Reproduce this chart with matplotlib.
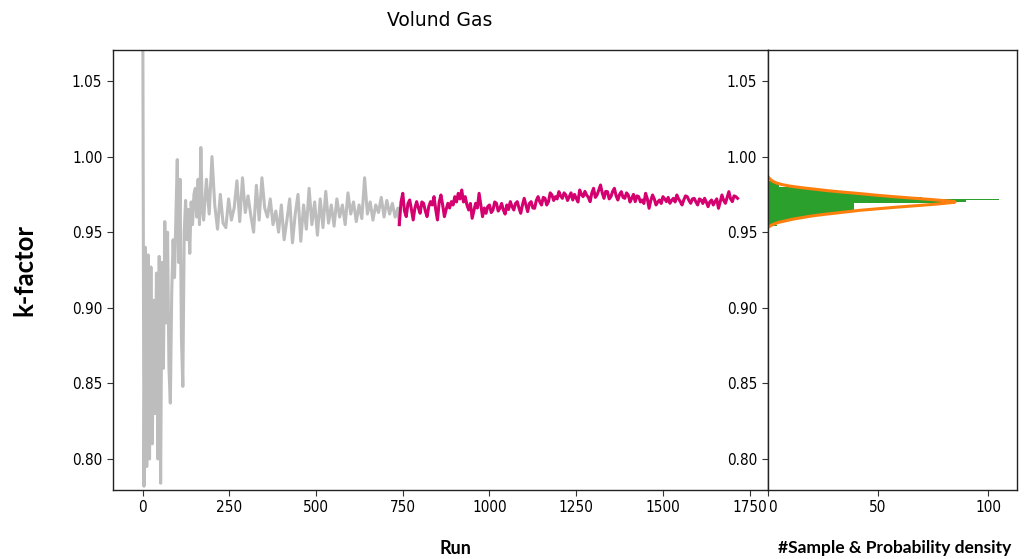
import numpy as np
import matplotlib
matplotlib.use("Agg")
import matplotlib.pyplot as plt

# ---------------- data ----------------
gray_runs = list(range(0, 173, 4)) + list(range(176, 737, 8)) + [740]
gray_kf = [
    1.15, 0.782, 0.940, 0.795, 0.935, 0.800, 0.927, 0.810, 0.905, 0.830,
    0.923, 0.800, 0.934, 0.784, 0.930, 0.860, 0.957, 0.890, 0.950, 0.860,
    0.837, 0.910, 0.945, 0.920, 0.960, 0.998, 0.930, 0.985, 0.880, 0.848,
    0.950, 0.971, 0.945, 0.965, 0.936, 0.970, 0.955, 0.975, 0.979, 0.960,
    0.985, 0.955, 1.006, 0.965,
    0.958, 0.985, 0.962, 1.000, 0.968, 0.952, 0.975, 0.956, 0.953, 0.972,
    0.958, 0.966, 0.984, 0.957, 0.986, 0.963, 0.974, 0.961, 0.950, 0.981,
    0.958, 0.986, 0.966, 0.960, 0.972, 0.955, 0.964, 0.950, 0.968, 0.945,
    0.958, 0.972, 0.943, 0.962, 0.975, 0.944, 0.968, 0.952, 0.979, 0.955,
    0.970, 0.948, 0.972, 0.953, 0.977, 0.956, 0.968, 0.954, 0.972, 0.960,
    0.968, 0.955, 0.976, 0.962, 0.970, 0.957, 0.968, 0.959, 0.986, 0.962,
    0.970, 0.958, 0.968, 0.963, 0.973, 0.960, 0.971, 0.962, 0.969, 0.960,
    0.966, 0.955,
]

mag_runs = list(range(740, 1716, 5))
mag_kf = [
    0.9550, 0.9700, 0.9757, 0.9640, 0.9603, 0.9690, 0.9713, 0.9650, 0.9581, 0.9660,
    0.9702, 0.9660, 0.9625, 0.9700, 0.9691, 0.9640, 0.9603, 0.9670, 0.9702, 0.9680,
    0.9735, 0.9650, 0.9581, 0.9700, 0.9746, 0.9680, 0.9603, 0.9650, 0.9691, 0.9660,
    0.9702, 0.9680, 0.9735, 0.9700, 0.9757, 0.9720, 0.9779, 0.9700, 0.9735, 0.9680,
    0.9647, 0.9690, 0.9592, 0.9640, 0.9691, 0.9660, 0.9757, 0.9680, 0.9603, 0.9660,
    0.9625, 0.9670, 0.9680, 0.9630, 0.9647, 0.9700, 0.9691, 0.9640, 0.9658, 0.9690,
    0.9647, 0.9620, 0.9680, 0.9650, 0.9702, 0.9670, 0.9647, 0.9690,
    0.9702, 0.9660, 0.9625, 0.9680, 0.9724, 0.9680, 0.9636, 0.9690, 0.9702, 0.9660,
    0.9658, 0.9710, 0.9735, 0.9700, 0.9680, 0.9730, 0.9724, 0.9680, 0.9702, 0.9760,
    0.9746, 0.9710, 0.9735, 0.9720, 0.9768, 0.9740, 0.9724, 0.9760, 0.9746, 0.9710,
    0.9735, 0.9760, 0.9713, 0.9750, 0.9724, 0.9700, 0.9779, 0.9750, 0.9735, 0.9770,
    0.9746, 0.9730, 0.9702, 0.9760, 0.9790, 0.9730, 0.9746, 0.9780, 0.9812, 0.9760,
    0.9724, 0.9770, 0.9768, 0.9720, 0.9735, 0.9770, 0.9790, 0.9740, 0.9713, 0.9750,
    0.9768, 0.9730, 0.9724, 0.9760, 0.9746, 0.9700,
    0.9724, 0.9750, 0.9702, 0.9740, 0.9735, 0.9700, 0.9713, 0.9690, 0.9757, 0.9720,
    0.9658, 0.9710, 0.9746, 0.9720, 0.9680, 0.9700, 0.9713, 0.9690, 0.9735, 0.9720,
    0.9702, 0.9730, 0.9691, 0.9710, 0.9724, 0.9700, 0.9746, 0.9720, 0.9702, 0.9680,
    0.9713, 0.9740, 0.9735, 0.9710, 0.9691, 0.9720, 0.9724, 0.9700, 0.9680, 0.9720,
    0.9713, 0.9690, 0.9724, 0.9700, 0.9669, 0.9700, 0.9713, 0.9680, 0.9702, 0.9720,
    0.9658, 0.9700, 0.9746, 0.9710, 0.9691, 0.9730, 0.9768, 0.9720, 0.9702, 0.9740,
    0.9735, 0.9724,
]

hist_centers = [0.9545 + 0.001 * i for i in range(30)]
hist_counts = [
    4, 3, 4, 7, 10, 14, 17, 23, 29, 35,
    41, 39, 39, 39, 39, 84, 90, 105, 70, 60,
    50, 42, 34, 27, 20, 13, 5, 6, 4, 2,
]

dens_k = [0.9535, 0.9545, 0.9555, 0.9565, 0.9575, 0.9585, 0.9595, 0.9605, 0.9615,
          0.9625, 0.9635, 0.9645, 0.9655, 0.9665, 0.9675, 0.9685, 0.9695, 0.9700,
          0.9705, 0.9715, 0.9725, 0.9735, 0.9745, 0.9755, 0.9765, 0.9775, 0.9785,
          0.9795, 0.9805, 0.9815, 0.9825, 0.9835, 0.9845, 0.9855, 0.9865]
dens_val = [0.5, 1.5, 3, 5, 8, 11, 15, 19, 24, 30, 36, 42, 50, 58, 67, 76, 83, 85,
            83, 75, 66, 57, 49, 42, 34, 27, 21, 15, 10, 6.5, 4, 2.5, 1.5, 0.8, 0.3]

yticks = [0.80, 0.85, 0.90, 0.95, 1.00, 1.05]
run_ticks = [0, 250, 500, 750, 1000, 1250, 1500, 1750]
hist_ticks = [0, 50, 100]

# ---------------- figure ----------------
fig = plt.figure(figsize=(10.25, 5.59), dpi=100)
ax1 = fig.add_axes([0.110, 0.1234, 0.639, 0.7872])
ax2 = fig.add_axes([0.749, 0.1234, 0.243, 0.7872])

n = min(len(gray_runs), len(gray_kf))
ax1.plot(gray_runs[:n], gray_kf[:n], color="#bdbdbd", lw=2.2)
m = min(len(mag_runs), len(mag_kf))
ax1.plot(mag_runs[:m], mag_kf[:m], color="#d4006f", lw=2.2)

ylim = (0.7795, 1.0705)
ax1.set_ylim(*ylim)
ax1.set_xlim(-86, 1802)
ax1.set_yticks(yticks)
ax1.set_yticklabels([f"{v:.2f}" for v in yticks])
ax1.set_xticks(run_ticks)

ax2.barh(hist_centers, hist_counts, height=0.001, color="#2ca02c", linewidth=0)
ax2.plot(dens_val, dens_k, color="#ff7f0e", lw=2.2)
ax2.set_ylim(*ylim)
ax2.set_xlim(0, 113)
ax2.set_yticks(yticks)
ax2.set_yticklabels([f"{v:.2f}" for v in yticks])
ax2.set_xticks(hist_ticks)

for ax in (ax1, ax2):
    ax.tick_params(labelsize=11, length=4, color="#333333")
    for lab in ax.get_xticklabels() + ax.get_yticklabels():
        lab.set_fontstretch("condensed")
    for s in ax.spines.values():
        s.set_color("#222222")
        s.set_linewidth(1.0)

ax2.get_xticklabels()[0].set_horizontalalignment("left")

fig.text(0.429, 0.963, "Volund Gas", ha="center", va="center", fontsize=13.5)
fig.text(0.444, 0.019, "Run", ha="center", va="center", fontsize=13,
         fontweight="bold", family="Lato")
fig.text(0.873, 0.019, "#Sample & Probability density", ha="center", va="center",
         fontsize=12.5, fontweight="bold", family="Lato")
fig.text(0.024, 0.517, "k-factor", ha="center", va="center", rotation=90,
         fontsize=18.5, fontweight="bold", family="Lato")

fig.savefig("out.png", dpi=100)
